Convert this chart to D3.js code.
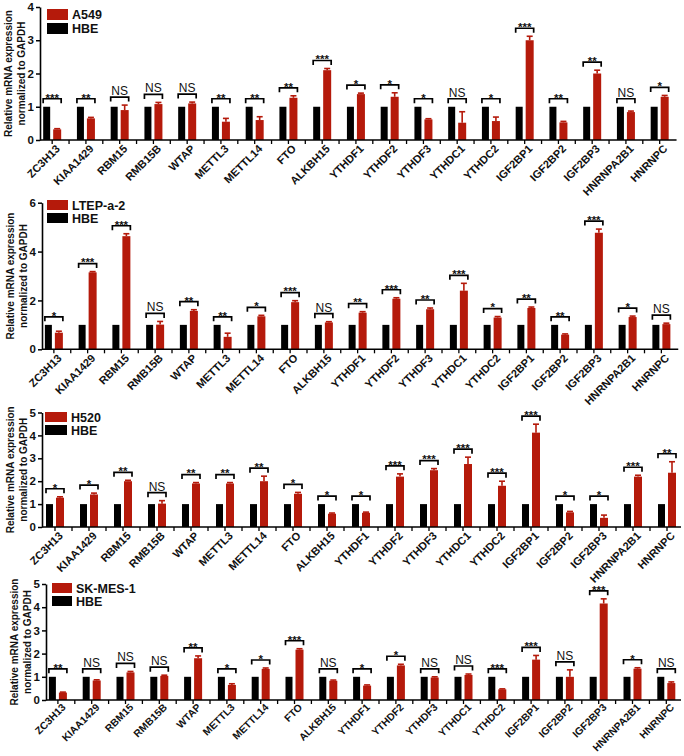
<!DOCTYPE html>
<html><head><meta charset="utf-8">
<script src="https://cdn.jsdelivr.net/npm/d3@7"></script>
<style>
body{margin:0;background:#fff}
svg{display:block;font-family:Arial,"Liberation Sans",sans-serif}
</style>
</head><body><svg id="c" width="684" height="756"></svg>
<script>
const genes = ["ZC3H13","KIAA1429","RBM15","RMB15B","WTAP","METTL3","METTL14","FTO","ALKBH15","YTHDF1","YTHDF2","YTHDF3","YTHDC1","YTHDC2","IGF2BP1","IGF2BP2","IGF2BP3","HNRNPA2B1","HNRNPC"];
const controlName = "HBE";
const hbe = [1,1,1,1,1,1,1,1,1,1,1,1,1,1,1,1,1,1,1];
const yTitle = ["Relative mRNA expression","normalized to GAPDH"];

const a549 = [0.32,0.65,0.9,1.08,1.1,0.55,0.6,1.27,2.1,1.38,1.3,0.62,0.52,0.57,3.0,0.53,2.0,0.84,1.3];
const a549Err = [0.02,0.03,0.15,0.05,0.04,0.1,0.1,0.06,0.05,0.03,0.12,0.02,0.33,0.12,0.12,0.03,0.1,0.03,0.04];
const a549Sig = ["***","**","NS","NS","NS","**","**","**","***","*","*","*","NS","*","***","**","**","NS","*"];
const a549Ticks = [0,1,2,3,4];

const ltep = [0.68,3.15,4.63,1.01,1.57,0.51,1.35,1.93,1.1,1.5,2.07,1.64,2.4,1.3,1.69,0.6,4.77,1.32,1.03];
const ltepErr = [0.06,0.03,0.1,0.13,0.05,0.15,0.04,0.06,0.03,0.04,0.04,0.05,0.3,0.04,0.04,0.03,0.15,0.04,0.04];
const ltepSig = ["*","***","***","NS","**","**","*","***","NS","**","***","**","***","*","**","**","***","*","NS"];
const ltepTicks = [0,2,4,6];

const h520 = [1.28,1.42,2.0,1.02,1.9,1.9,2.0,1.45,0.58,0.62,2.2,2.48,2.75,1.8,4.12,0.64,0.4,2.2,2.37];
const h520Err = [0.04,0.06,0.04,0.13,0.04,0.04,0.22,0.06,0.03,0.03,0.12,0.07,0.3,0.2,0.37,0.04,0.12,0.06,0.48];
const h520Sig = ["*","*","**","NS","**","**","**","*","*","*","***","***","***","***","***","*","*","***","**"];
const h520Ticks = [0,1,2,3,4,5];

const skmes = [0.32,0.84,1.19,1.04,1.8,0.65,1.34,2.17,0.83,0.62,1.49,0.97,1.08,0.46,1.74,1.0,4.16,1.35,0.73];
const skmesErr = [0.02,0.03,0.04,0.03,0.1,0.05,0.04,0.04,0.03,0.03,0.05,0.03,0.04,0.02,0.18,0.3,0.2,0.04,0.05];
const skmesSig = ["**","NS","NS","NS","**","*","*","***","NS","*","*","NS","NS","***","***","NS","***","*","NS"];
const skmesTicks = [0,1,2,3,4,5];

const RED = "#b51a0b";
const BLACK = "#000";

const panels = [
  {name:"A549", vals:a549, errs:a549Err, sigs:a549Sig, ticks:a549Ticks,
   axisX:40, bandStart:35.3, bw:33.75, y0:140, yTop:7, lx:47, ly:9, lh:11, lw:21, fs:11, ty:9.5},
  {name:"LTEP-a-2", vals:ltep, errs:ltepErr, sigs:ltepSig, ticks:ltepTicks,
   axisX:42, bandStart:37, bw:33.75, y0:349.3, yTop:202.7, lx:47, ly:200, lh:10, lw:21, fs:11, ty:9.5},
  {name:"H520", vals:h520, errs:h520Err, sigs:h520Sig, ticks:h520Ticks,
   axisX:42, bandStart:38, bw:34, y0:527, yTop:412.5, lx:45, ly:412, lh:10, lw:22, fs:11, ty:9.5},
  {name:"SK-MES-1", vals:skmes, errs:skmesErr, sigs:skmesSig, ticks:skmesTicks,
   axisX:46, bandStart:41, bw:33.8, y0:700, yTop:584, lx:52, ly:583, lh:10, lw:20, fs:10.3, ty:8}
];

const svg = d3.select("#c");

panels.forEach(p => {
  const g = svg.append("g");
  const x = d3.scaleBand().domain(genes).range([p.bandStart, p.bandStart + p.bw*genes.length]).padding(0);
  const maxT = p.ticks[p.ticks.length-1];
  const y = d3.scaleLinear().domain([0, maxT]).range([p.y0, p.yTop]);
  const cx = d => x(d) + p.bw/2;
  const xEnd = Math.min(681, p.bandStart + p.bw*genes.length);

  // bars
  g.selectAll("rect.ctrl").data(genes).enter().append("rect")
    .attr("x", d => cx(d) - 9).attr("width", 7)
    .attr("y", (d,i) => y(hbe[i])).attr("height", (d,i) => y(0) - y(hbe[i]))
    .attr("fill", BLACK);
  g.selectAll("rect.case").data(genes).enter().append("rect")
    .attr("x", d => cx(d) + 1).attr("width", 8)
    .attr("y", (d,i) => y(p.vals[i])).attr("height", (d,i) => y(0) - y(p.vals[i]))
    .attr("fill", RED);
  // error bars
  genes.forEach((d,i) => {
    const ex = cx(d) + 5;
    const yt = y(p.vals[i] + p.errs[i]);
    g.append("line").attr("x1", ex).attr("x2", ex).attr("y1", y(p.vals[i])).attr("y2", yt)
      .attr("stroke", RED).attr("stroke-width", 1.6);
    g.append("line").attr("x1", ex-3).attr("x2", ex+3).attr("y1", yt).attr("y2", yt)
      .attr("stroke", RED).attr("stroke-width", 1.6);
  });
  // significance brackets
  genes.forEach((d,i) => {
    const top = Math.max(hbe[i], p.vals[i] + p.errs[i]);
    const by = y(top) - 8;
    const x1 = cx(d) - 9, x2 = cx(d) + 9;
    g.append("path").attr("d", `M${x1},${by+4.5}V${by}H${x2}V${by+4.5}`)
      .attr("fill","none").attr("stroke", BLACK).attr("stroke-width", 1.7);
    const s = p.sigs[i];
    if (s === "NS") {
      g.append("text").attr("x", cx(d)).attr("y", by - 2).attr("text-anchor","middle")
        .attr("font-size", 12).attr("fill", "#111").text(s);
    } else {
      g.append("text").attr("x", cx(d)).attr("y", by + 2.8).attr("text-anchor","middle")
        .attr("font-size", 11.5).attr("font-weight","bold").attr("fill", "#111").text(s);
    }
  });

  // x axis
  const xa = g.append("g").attr("transform", `translate(0,${p.y0})`)
    .call(d3.axisBottom(x).tickSize(4).tickSizeOuter(0));
  xa.select(".domain").remove();
  xa.selectAll(".tick line").attr("stroke-width", 1.3);
  xa.selectAll(".tick text")
    .attr("font-size", p.fs).attr("font-weight","bold").attr("fill","#111")
    .attr("text-anchor","end").attr("dy", null).attr("y", 0)
    .attr("transform", `translate(8.5,${p.ty}) rotate(-45)`);
  // boundary ticks
  genes.slice(1).forEach(d => {
    g.append("line").attr("x1", x(d)).attr("x2", x(d)).attr("y1", p.y0).attr("y2", p.y0 + 4)
      .attr("stroke", BLACK).attr("stroke-width", 1.3);
  });
  g.append("line").attr("x1", p.axisX).attr("x2", xEnd).attr("y1", p.y0).attr("y2", p.y0)
    .attr("stroke", BLACK).attr("stroke-width", 1.6);

  // y axis
  const ya = g.append("g").attr("transform", `translate(${p.axisX},0)`)
    .call(d3.axisLeft(y).tickValues(p.ticks).tickFormat(d3.format("d")).tickSize(4).tickSizeOuter(0));
  ya.select(".domain").attr("stroke-width", 1.6);
  ya.selectAll(".tick line").attr("stroke-width", 1.5);
  ya.selectAll(".tick text").attr("font-size", 11.5).attr("font-weight","bold").attr("fill","#111").attr("x", -6);

  // y title
  const ymid = (p.y0 + p.yTop)/2;
  yTitle.forEach((t,k) => {
    g.append("text").attr("transform", `translate(${p.axisX - 28 + k*12.5},${ymid}) rotate(-90)`)
      .attr("text-anchor","middle").attr("font-size", 10).attr("font-weight","bold").attr("fill","#111").text(t);
  });

  // legend
  const legend = [{label:p.name, color:RED}, {label:controlName, color:BLACK}];
  legend.forEach((l,k) => {
    const ly = p.ly + k*(p.lh + 3);
    g.append("rect").attr("x", p.lx).attr("y", ly).attr("width", p.lw).attr("height", p.lh).attr("fill", l.color);
    g.append("text").attr("x", p.lx + p.lw + 4).attr("y", ly + p.lh/2 + 4.5)
      .attr("font-size", 12.5).attr("font-weight","bold").attr("fill","#111").text(l.label);
  });
});
</script>
</body></html>
